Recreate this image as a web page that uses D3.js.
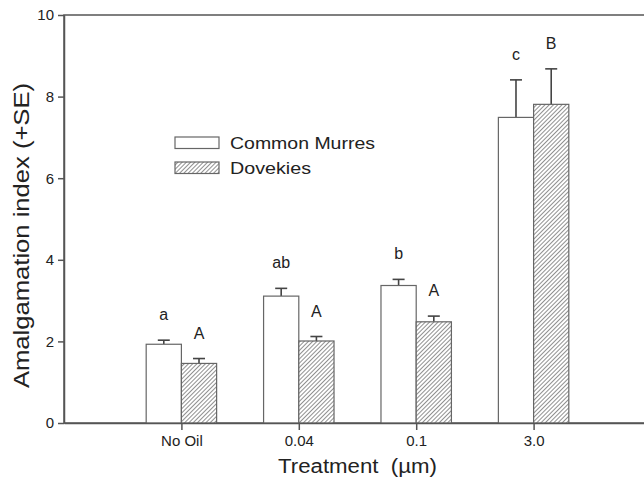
<!DOCTYPE html>
<html lang="en">
	<head>
		<meta charset="utf-8">
		<title>Amalgamation index by treatment</title>
		<script type="text/javascript" src="https://d3js.org/d3.v7.min.js"></script>
		<style type="text/css">
			body{
				margin: 0;
				background: #fff;
			}
			text{
				font-family: Arial, "Liberation Sans", sans-serif;
				fill: #222;
			}
		</style>
	</head>
	<body>
		<script type="text/javascript">

			//Width and height
			var w = 644;
			var h = 482;

			//Data
			var treatments = ["No Oil", "0.04", "0.1", "3.0"];
			var murres = [1.93, 3.11, 3.37, 7.49];
			var murresSE = [0.10, 0.19, 0.15, 0.92];
			var murresLetters = ["a", "ab", "b", "c"];
			var dovekies = [1.46, 2.01, 2.48, 7.81];
			var dovekiesSE = [0.12, 0.11, 0.14, 0.87];
			var dovekiesLetters = ["A", "A", "A", "B"];
			var yTicks = [0, 2, 4, 6, 8, 10];

			var pLeft = 64, pRight = 651, pTop = 15, pBottom = 423;
			var barW = 0.3;

			//Scales: category i sits at x = i + 1
			var xScale = d3.scaleLinear()
								 .domain([0, 5])
								 .range([pLeft, pRight]);

			var yScale = d3.scaleLinear()
								 .domain([0, 10])
								 .range([pBottom, pTop]);

			var svg = d3.select("body")
						.append("svg")
						.attr("width", w)
						.attr("height", h);

			//Hatch pattern
			var hs = 3;
			var pat = svg.append("defs")
						 .append("pattern")
						 .attr("id", "hatch")
						 .attr("patternUnits", "userSpaceOnUse")
						 .attr("width", hs)
						 .attr("height", hs)
						 .attr("patternTransform", "rotate(45)");
			pat.append("rect")
			   .attr("width", hs)
			   .attr("height", hs)
			   .attr("fill", "#fff");
			pat.append("line")
			   .attr("x1", 0).attr("y1", 0)
			   .attr("x2", 0).attr("y2", hs)
			   .attr("stroke", "#222")
			   .attr("stroke-width", 1);

			//Frame (top and right edges)
			svg.append("rect")
			   .attr("x", pLeft)
			   .attr("y", pTop)
			   .attr("width", pRight - pLeft)
			   .attr("height", pBottom - pTop)
			   .attr("fill", "none")
			   .attr("stroke", "#555")
			   .attr("stroke-width", 1.5);

			var series = [
				{vals: murres, se: murresSE, letters: murresLetters, off: -barW, fill: "#fff"},
				{vals: dovekies, se: dovekiesSE, letters: dovekiesLetters, off: 0, fill: "url(#hatch)"}
			];

			series.forEach(function(s) {
				var g = svg.append("g");
				var items = s.vals.map(function(v, i) {
					return {i: i, v: v, se: s.se[i], letter: s.letters[i]};
				});
				var cx = function(d) { return xScale(d.i + 1 + s.off + barW / 2); };

				//Error bars (upper only)
				g.selectAll("line.err")
				 .data(items)
				 .enter()
				 .append("line")
				 .attr("class", "err")
				 .attr("x1", cx)
				 .attr("x2", cx)
				 .attr("y1", function(d) { return yScale(d.v); })
				 .attr("y2", function(d) { return yScale(d.v + d.se); })
				 .attr("stroke", "#444")
				 .attr("stroke-width", 1.6);

				g.selectAll("line.cap")
				 .data(items)
				 .enter()
				 .append("line")
				 .attr("class", "cap")
				 .attr("x1", function(d) { return cx(d) - 6; })
				 .attr("x2", function(d) { return cx(d) + 6; })
				 .attr("y1", function(d) { return yScale(d.v + d.se); })
				 .attr("y2", function(d) { return yScale(d.v + d.se); })
				 .attr("stroke", "#444")
				 .attr("stroke-width", 1.6);

				//Bars
				g.selectAll("rect")
				 .data(items)
				 .enter()
				 .append("rect")
				 .attr("x", function(d) { return xScale(d.i + 1 + s.off); })
				 .attr("y", function(d) { return yScale(d.v); })
				 .attr("width", xScale(barW) - xScale(0))
				 .attr("height", function(d) { return yScale(0) - yScale(d.v); })
				 .attr("fill", s.fill)
				 .attr("stroke", "#666")
				 .attr("stroke-width", 1.2);

				//Significance letters
				g.selectAll("text")
				 .data(items)
				 .enter()
				 .append("text")
				 .text(function(d) { return d.letter; })
				 .attr("x", cx)
				 .attr("y", function(d) { return yScale(d.v + d.se) - 20; })
				 .attr("text-anchor", "middle")
				 .style("font-size", "16px");
			});

			//Axes
			var xAxis = d3.axisBottom(xScale)
						  .tickValues([1, 2, 3, 4])
						  .tickFormat(function(d) { return treatments[d - 1]; })
						  .tickSize(7)
						  .tickSizeOuter(0)
						  .tickPadding(5);

			var yAxis = d3.axisLeft(yScale)
						  .tickValues(yTicks)
						  .tickSize(6)
						  .tickSizeOuter(0)
						  .tickPadding(4);

			var gx = svg.append("g")
						.attr("transform", "translate(0," + pBottom + ")")
						.call(xAxis);
			var gy = svg.append("g")
						.attr("transform", "translate(" + pLeft + ",0)")
						.call(yAxis);

			[gx, gy].forEach(function(g) {
				g.selectAll("path, line").attr("stroke", "#555").attr("stroke-width", 1.5);
				g.selectAll("text")
				 .style("font-size", "15px")
				 .style("font-family", "Arial, 'Liberation Sans', sans-serif")
				 .attr("fill", "#222");
			});

			//Axis titles
			svg.append("text")
			   .text("Treatment  (\u00b5m)")
			   .attr("x", 278)
			   .attr("y", 473)
			   .attr("textLength", 159)
			   .attr("lengthAdjust", "spacingAndGlyphs")
			   .style("font-size", "20px")
			   .style("white-space", "pre");

			svg.append("text")
			   .text("Amalgamation index (+SE)")
			   .attr("transform", "translate(29,388) rotate(-90)")
			   .attr("textLength", 305)
			   .attr("lengthAdjust", "spacingAndGlyphs")
			   .style("font-size", "22px");

			//Legend
			var legend = svg.append("g");
			var legendItems = [
				{name: "Common Murres", fill: "#fff", y: 137, len: 145},
				{name: "Dovekies", fill: "url(#hatch)", y: 162, len: 81}
			];
			legend.selectAll("rect")
				  .data(legendItems)
				  .enter()
				  .append("rect")
				  .attr("x", 175)
				  .attr("y", function(d) { return d.y; })
				  .attr("width", 44)
				  .attr("height", 11.5)
				  .attr("fill", function(d) { return d.fill; })
				  .attr("stroke", "#666")
				  .attr("stroke-width", 1.2);
			legend.selectAll("text")
				  .data(legendItems)
				  .enter()
				  .append("text")
				  .text(function(d) { return d.name; })
				  .attr("x", 230)
				  .attr("y", function(d) { return d.y + 12; })
				  .attr("textLength", function(d) { return d.len; })
				  .attr("lengthAdjust", "spacingAndGlyphs")
				  .style("font-size", "17px");

		</script>
	</body>
</html>
